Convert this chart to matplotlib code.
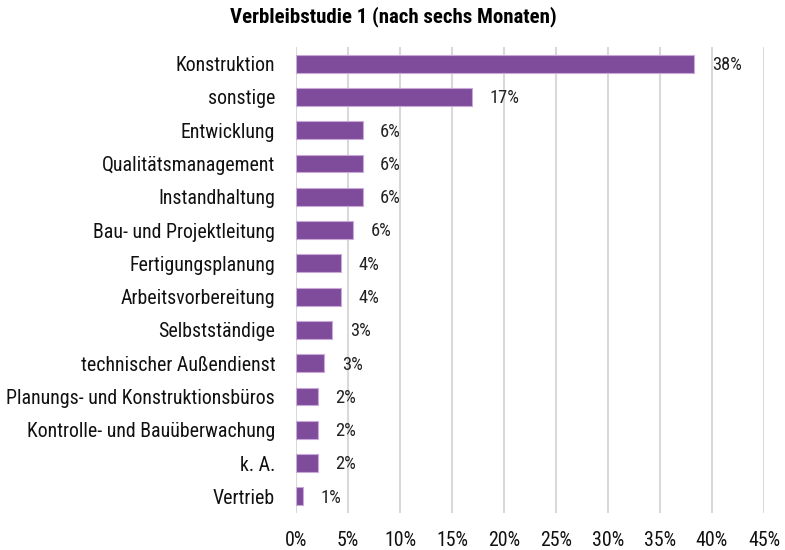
import matplotlib
matplotlib.use("Agg")
from matplotlib import pyplot as plt
from matplotlib.ticker import FuncFormatter

# Daten (Anteile in Prozent)
categories = [
    "Konstruktion", "sonstige", "Entwicklung", "Qualitätsmanagement",
    "Instandhaltung", "Bau- und Projektleitung", "Fertigungsplanung",
    "Arbeitsvorbereitung", "Selbstständige", "technischer Außendienst",
    "Planungs- und Konstruktionsbüros", "Kontrolle- und Bauüberwachung",
    "k. A.", "Vertrieb",
]
values = [38.3, 16.9, 6.4, 6.4, 6.4, 5.5, 4.3, 4.3, 3.5, 2.7, 2.1, 2.1, 2.1, 0.7]
labels = ["38%", "17%", "6%", "6%", "6%", "6%", "4%", "4%", "3%", "3%",
          "2%", "2%", "2%", "1%"]

plt.rcParams['font.family'] = ['Roboto Condensed', 'DejaVu Sans']

fig = plt.figure(figsize=(7.85, 5.5), dpi=100)
ax = fig.add_axes([296 / 785, 1 - 513 / 550, (764 - 296) / 785, (513 - 47) / 550])

y = list(range(len(categories)))
ax.barh(y, values, height=0.54, color='#7f4b9b', edgecolor='#c9a8da', linewidth=0.8, zorder=3)

for yi, v, lab in zip(y, values, labels):
    ax.text(v + 1.7, yi + 0.04, lab, va='center', ha='left', fontsize=13.3, color='#222222')

ax.set_xlim(0, 45)
ax.set_ylim(len(categories) - 0.5, -0.5)
ax.set_xticks(range(0, 50, 5))
ax.xaxis.set_major_formatter(FuncFormatter(lambda x, p: f"{int(x)}%"))
ax.set_yticks(y)
ax.set_yticklabels(categories)

ax.grid(axis='x', color='#d9d9d9', linewidth=1.5, zorder=0)
for s in ax.spines.values():
    s.set_visible(False)
ax.tick_params(axis='both', length=0, labelsize=14.3, colors='#111111')
ax.tick_params(axis='y', pad=15)
ax.tick_params(axis='x', pad=13)

fig.suptitle("Verbleibstudie 1 (nach sechs Monaten)", x=393 / 785, y=1 - 6 / 550,
             va='top', fontsize=15, fontweight='bold')

fig.savefig("out.png", dpi=100)
